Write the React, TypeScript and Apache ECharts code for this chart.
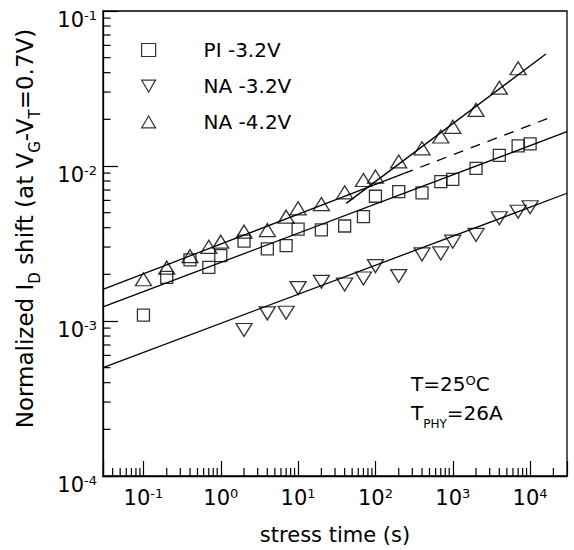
import React, { useEffect, useRef } from 'react';
import * as echarts from 'echarts';

// ---- data ----
const piTimes = [0.1, 0.2, 0.4, 0.7, 1, 2, 4, 7, 10, 20, 40, 70, 100, 200, 400, 700, 1000, 2000, 4000, 7000, 10000];
const piValues = [1.09e-3, 1.91e-3, 2.48e-3, 2.22e-3, 2.64e-3, 3.28e-3, 2.92e-3, 3.06e-3, 3.91e-3, 3.87e-3, 4.1e-3, 4.71e-3, 6.38e-3, 6.83e-3, 6.7e-3, 7.93e-3, 8.21e-3, 9.66e-3, 1.17e-2, 1.35e-2, 1.39e-2];

const na32Times = [2, 4, 7, 10, 20, 40, 70, 100, 200, 400, 700, 1000, 2000, 4000, 7000, 10000];
const na32Values = [8.75e-4, 1.12e-3, 1.13e-3, 1.63e-3, 1.79e-3, 1.72e-3, 1.88e-3, 2.26e-3, 1.95e-3, 2.69e-3, 2.73e-3, 3.25e-3, 3.59e-3, 4.6e-3, 5.07e-3, 5.42e-3];

const na42Times = [0.1, 0.2, 0.4, 0.7, 1, 2, 4, 7, 10, 20, 40, 70, 100, 200, 400, 700, 1000, 2000, 4000, 7000];
const na42Values = [1.86e-3, 2.21e-3, 2.62e-3, 3.01e-3, 3.25e-3, 3.77e-3, 3.86e-3, 4.71e-3, 5.33e-3, 5.68e-3, 6.76e-3, 8.12e-3, 8.55e-3, 1.07e-2, 1.3e-2, 1.55e-2, 1.79e-2, 2.3e-2, 3.2e-2, 4.27e-2];

// fitted power-law lines (end points)
const fitPiT = [0.03, 30000];
const fitPiV = [1.233e-3, 1.664e-2];
const fitNa32T = [0.03, 30000];
const fitNa32V = [5.0e-4, 6.67e-3];
const fitNa42LowT = [0.03, 230];
const fitNa42LowV = [1.6e-3, 8.92e-3];
const fitNa42DashT = [230, 18500];
const fitNa42DashV = [8.92e-3, 2.06e-2];
const fitNa42HighT = [41.9, 16000];
const fitNa42HighV = [5.74e-3, 5.28e-2];

const seriesNames = ['PI -3.2V', 'NA -3.2V', 'NA -4.2V'];

const X_MIN = 0.03;
const X_MAX = 30000;
const Y_MIN = 1e-4;
const Y_MAX = 1e-1;

const FONT = 'DejaVu Sans';

const zip = (a: number[], b: number[]) => a.map((v, i) => [v, b[i]]);

function minorTicks() {
  const out: number[][] = [];
  for (let e = -2; e <= 4; e++) {
    for (let m = 2; m <= 9; m++) {
      const v = m * Math.pow(10, e);
      if (v > X_MIN * 1.0001 && v < X_MAX * 0.9999) out.push([v, Y_MIN, 0]);
    }
  }
  for (let e = -4; e <= -2; e++) {
    for (let m = 2; m <= 9; m++) {
      const v = m * Math.pow(10, e);
      if (v > Y_MIN && v < Y_MAX) out.push([X_MIN, v, 1]);
    }
  }
  return out;
}

const powLabel = (v: number) => {
  const l = Math.log10(v);
  const e = Math.round(l);
  if (Math.abs(l - e) > 1e-6) return '';
  return `{b|10}{s|${e}}`;
};

const tickRich = {
  b: { fontFamily: FONT, fontSize: 21, lineHeight: 21, color: '#000' },
  s: { fontFamily: FONT, fontSize: 13, lineHeight: 4, verticalAlign: 'top', color: '#000' },
};

const upTri = 'path://M1,0L2,1.7L0,1.7Z';
const downTri = 'path://M0,0L2,0L1,1.7Z';

export default function App() {
  const ref = useRef<HTMLDivElement>(null);
  useEffect(() => {
    if (!ref.current) return;
    const chart = echarts.init(ref.current, undefined, { renderer: 'svg' });
    const markerStyle = { color: 'transparent', borderColor: '#000', borderWidth: 1.3 };
    const fitLine = (data: number[][], dashed = false) => ({
      type: 'line',
      data,
      symbol: 'none',
      silent: true,
      lineStyle: { color: '#000', width: 1.3, type: dashed ? [10, 8] : 'solid' },
      z: 1,
    });
    chart.setOption({
      animation: false,
      backgroundColor: '#fff',
      grid: { left: 103, top: 11, right: 7, bottom: 74, show: true, borderColor: '#000', borderWidth: 1.3, containLabel: false },
      legend: {
        data: seriesNames,
        orient: 'vertical',
        left: 136,
        top: 35,
        itemWidth: 14,
        itemHeight: 13,
        itemGap: 16,
        textStyle: { fontFamily: FONT, fontSize: 20, color: '#000', padding: [0, 0, 0, 43] },
        itemStyle: { color: 'transparent', borderColor: '#000', borderWidth: 1.2 },
      },
      xAxis: {
        type: 'log',
        logBase: 10,
        min: X_MIN,
        max: X_MAX,
        name: 'stress time (s)',
        nameLocation: 'middle',
        nameGap: 48,
        nameTextStyle: { fontFamily: FONT, fontSize: 21, color: '#000' },
        axisLine: { show: true, lineStyle: { color: '#000', width: 1.3 } },
        axisTick: { show: true, inside: true, length: 15, lineStyle: { color: '#000', width: 1.2 } },
        splitLine: { show: false },
        axisLabel: { formatter: powLabel, margin: 11, rich: tickRich, color: '#000', showMinLabel: true, showMaxLabel: true, hideOverlap: false },
      },
      yAxis: {
        type: 'log',
        logBase: 10,
        min: Y_MIN,
        max: Y_MAX,
        name: '{m|Normalized I}{s|D}{m| shift (at V}{s|G}{m|-V}{s|T}{m|=0.7V)}',
        nameLocation: 'middle',
        nameRotate: 90,
        nameGap: 61,
        nameTextStyle: {
          fontFamily: FONT,
          fontSize: 23,
          color: '#000',
          padding: [0, 0, 0, 30],
          rich: {
            m: { fontFamily: FONT, fontSize: 23, lineHeight: 23, verticalAlign: 'top', color: '#000' },
            s: { fontFamily: FONT, fontSize: 15, lineHeight: 29, verticalAlign: 'bottom', color: '#000' },
          },
        },
        axisLine: { show: true, lineStyle: { color: '#000', width: 1.3 } },
        axisTick: { show: true, inside: true, length: 15, lineStyle: { color: '#000', width: 1.2 } },
        splitLine: { show: false },
        axisLabel: { formatter: powLabel, margin: 6, rich: tickRich, color: '#000', padding: [17, 0, 0, 0], showMinLabel: true, showMaxLabel: true, hideOverlap: false },
      },
      graphic: [
        {
          type: 'text',
          x: 411,
          y: 384,
          style: {
            text: '{b|T=25}{s|O}{b|C}',
            verticalAlign: 'middle',
            align: 'left',
            rich: {
              b: { fontFamily: FONT, fontSize: 20, lineHeight: 20, fill: '#000' },
              s: { fontFamily: FONT, fontSize: 13, lineHeight: 4, verticalAlign: 'top', fill: '#000' },
            },
          },
        },
        {
          type: 'text',
          x: 411,
          y: 416.5,
          style: {
            text: '{b|T}{s|PHY}{b|=26A}',
            verticalAlign: 'middle',
            align: 'left',
            rich: {
              b: { fontFamily: FONT, fontSize: 20, lineHeight: 20, verticalAlign: 'top', fill: '#000' },
              s: { fontFamily: FONT, fontSize: 12, lineHeight: 27.5, verticalAlign: 'bottom', fill: '#000' },
            },
          },
        },
      ],
      series: [
        fitLine(zip(fitPiT, fitPiV)),
        fitLine(zip(fitNa32T, fitNa32V)),
        fitLine(zip(fitNa42LowT, fitNa42LowV)),
        fitLine(zip(fitNa42DashT, fitNa42DashV), true),
        fitLine(zip(fitNa42HighT, fitNa42HighV)),
        {
          type: 'scatter',
          name: seriesNames[0],
          data: zip(piTimes, piValues),
          symbol: 'rect',
          symbolSize: 12,
          itemStyle: markerStyle,
          z: 3,
        },
        {
          type: 'scatter',
          name: seriesNames[1],
          data: zip(na32Times, na32Values),
          symbol: downTri,
          symbolSize: [16, 13],
          itemStyle: markerStyle,
          z: 3,
        },
        {
          type: 'scatter',
          name: seriesNames[2],
          data: zip(na42Times, na42Values),
          symbol: upTri,
          symbolSize: [16, 13],
          itemStyle: markerStyle,
          z: 3,
        },
        {
          type: 'custom',
          silent: true,
          data: minorTicks(),
          renderItem: (_p: any, api: any) => {
            const p = api.coord([api.value(0), api.value(1)]);
            const isX = api.value(2) === 0;
            return {
              type: 'line',
              shape: isX
                ? { x1: p[0], y1: p[1], x2: p[0], y2: p[1] - 8 }
                : { x1: p[0], y1: p[1], x2: p[0] + 7.5, y2: p[1] },
              style: { stroke: '#000', lineWidth: 1.2 },
            };
          },
          z: 2,
        },
      ],
    });
    return () => chart.dispose();
  }, []);
  return <div ref={ref} style={{ position: 'fixed', left: 0, top: 0, width: 574, height: 550 }} />;
}
